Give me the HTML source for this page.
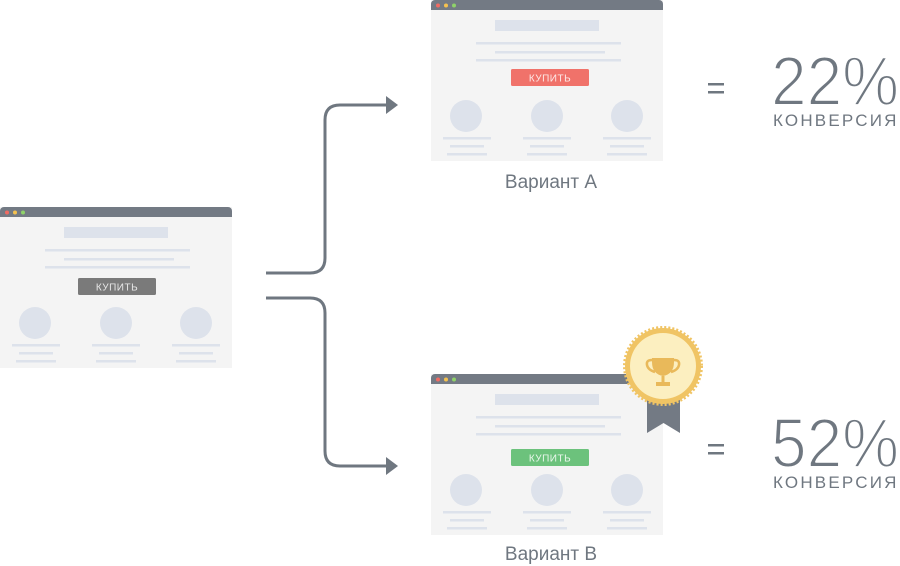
<!DOCTYPE html>
<html><head><meta charset="utf-8"><style>
html,body{margin:0;padding:0;background:#fff;width:900px;height:566px;overflow:hidden}
svg{display:block}
text{font-family:"Liberation Sans","DejaVu Sans",sans-serif}
</style></head><body>
<svg width="900" height="566" viewBox="0 0 900 566" xmlns="http://www.w3.org/2000/svg">
<defs>
<g id="mock">
  <rect x="0" y="207" width="232" height="161" fill="#f4f4f4"/>
  <path d="M0 211 a4 4 0 0 1 4 -4 h224 a4 4 0 0 1 4 4 v6 h-232z" fill="#737a84"/>
  <circle cx="7" cy="212.5" r="2" fill="#f06b63"/>
  <circle cx="15" cy="212.5" r="2" fill="#f5c24f"/>
  <circle cx="23" cy="212.5" r="2" fill="#8fd36a"/>
  <rect x="64" y="227" width="104" height="11" fill="#dde2eb"/>
  <rect x="45" y="249" width="145" height="2.5" fill="#dde2eb"/>
  <rect x="64" y="258" width="110" height="2.5" fill="#dde2eb"/>
  <rect x="45" y="266" width="145" height="2.5" fill="#dde2eb"/>
  <circle cx="35" cy="323" r="16" fill="#dde2eb"/>
  <circle cx="116" cy="323" r="16" fill="#dde2eb"/>
  <circle cx="196" cy="323" r="16" fill="#dde2eb"/>
  <rect x="12" y="344" width="48" height="2.5" fill="#dde2eb"/>
  <rect x="19" y="352" width="34" height="2.5" fill="#dde2eb"/>
  <rect x="16" y="360" width="40" height="2.5" fill="#dde2eb"/>
  <rect x="92" y="344" width="48" height="2.5" fill="#dde2eb"/>
  <rect x="99" y="352" width="34" height="2.5" fill="#dde2eb"/>
  <rect x="96" y="360" width="40" height="2.5" fill="#dde2eb"/>
  <rect x="172" y="344" width="48" height="2.5" fill="#dde2eb"/>
  <rect x="179" y="352" width="34" height="2.5" fill="#dde2eb"/>
  <rect x="176" y="360" width="40" height="2.5" fill="#dde2eb"/>
</g>
</defs>

<use href="#mock"/>
<rect x="78" y="278" width="78" height="17" rx="1.5" fill="#7a7a7a"/>
<text x="117" y="290.5" font-size="10" fill="#e8e8e8" text-anchor="middle" letter-spacing="0.5">КУПИТЬ</text>

<g transform="translate(431,-207)">
  <use href="#mock"/>
  <rect x="80" y="276" width="78" height="17" rx="1.5" fill="#f0726a"/>
  <text x="119" y="288.5" font-size="10" fill="#fde9e7" text-anchor="middle" letter-spacing="0.5">КУПИТЬ</text>
</g>
<g transform="translate(431,167)">
  <use href="#mock"/>
  <rect x="80" y="282" width="78" height="17" rx="1.5" fill="#6cc27c"/>
  <text x="119" y="294.5" font-size="10" fill="#eaf7ec" text-anchor="middle" letter-spacing="0.5">КУПИТЬ</text>
</g>

<g fill="none" stroke="#6f7780" stroke-width="3">
  <path d="M266 273 H310 Q325 273 325 258 V120 Q325 105 340 105 H388"/>
  <path d="M266 298 H310 Q325 298 325 313 V451 Q325 466 340 466 H388"/>
</g>
<path d="M386 96 L398 105 L386 114z" fill="#6f7780"/>
<path d="M386 457 L398 466 L386 475z" fill="#6f7780"/>

<!-- badge -->
<path d="M647 398 H680 V433 L663.5 423 L647 433z" fill="#737a84"/>
<circle cx="663" cy="366" r="38" fill="#f0c464" stroke="#f0c464" stroke-width="4" stroke-dasharray="2 2"/>
<circle cx="663" cy="366" r="33" fill="#fcefc0"/>
<path d="M652 358 h22 v4 q0 12 -11 14 q-11 -2 -11 -14z" fill="#e9b95a"/>
<path d="M652 360 q-6 0 -5 5 q1 5 8 7 M674 360 q6 0 5 5 q-1 5 -8 7" fill="none" stroke="#e9b95a" stroke-width="2.5"/>
<rect x="661.5" y="376" width="3" height="6" fill="#e9b95a"/>
<rect x="656" y="382" width="14" height="4" fill="#e9b95a"/>

<g fill="#6f7780">
  <rect x="708" y="83" width="16" height="2.5"/><rect x="708" y="91" width="16" height="2.5"/>
  <rect x="708" y="444" width="16" height="2.5"/><rect x="708" y="452" width="16" height="2.5"/>
</g>
<g fill="#6f7780" stroke="#ffffff" stroke-width="2" stroke-linejoin="round">
<text x="771" y="105" font-size="70" textLength="128" lengthAdjust="spacingAndGlyphs">22%</text>
<text x="771" y="467" font-size="70" textLength="128" lengthAdjust="spacingAndGlyphs">52%</text>
</g>
<text x="773" y="126" font-size="17" fill="#6f7780" letter-spacing="2.2">КОНВЕРСИЯ</text>
<text x="773" y="488" font-size="17" fill="#6f7780" letter-spacing="2.2">КОНВЕРСИЯ</text>

<text x="551" y="188" font-size="19" fill="#6f7780" text-anchor="middle">Вариант A</text>
<text x="551" y="560" font-size="19" fill="#6f7780" text-anchor="middle">Вариант B</text>
</svg>
</body></html>
